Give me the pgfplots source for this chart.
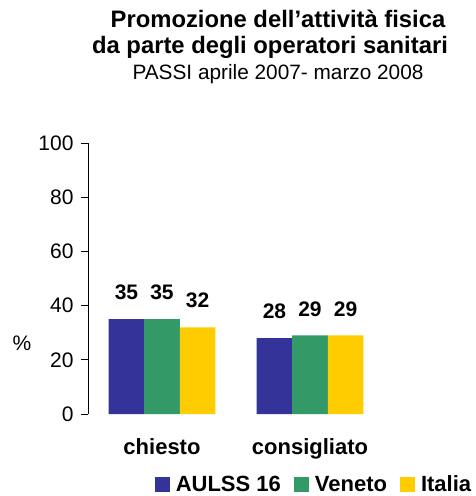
\documentclass[border=0pt]{standalone}
\usepackage{fontspec}
\setmainfont{Liberation Sans}
\usepackage{pgfplots}
\pgfplotsset{compat=1.18}
\definecolor{cblue}{HTML}{333399}
\definecolor{cgreen}{HTML}{339966}
\definecolor{cyellow}{HTML}{FFCC00}
\begin{document}
\begin{tikzpicture}[x=1pt,y=1pt]
\path[use as bounding box] (0,0) rectangle (475,496);
\node[anchor=base,font=\fontsize{23.8}{28}\selectfont\bfseries] at (278,468) {Promozione dell’attività fisica};
\node[anchor=base,font=\fontsize{23.8}{28}\selectfont\bfseries] at (270,442) {da parte degli operatori sanitari};
\node[anchor=base,font=\fontsize{20.8}{24}\selectfont] at (278,416) {PASSI aprile 2007- marzo 2008};
\begin{axis}[
  at={(88pt,82pt)}, anchor=south west,
  scale only axis, width=296pt, height=271pt,
  xmin=-0.5, xmax=1.5, ymin=0, ymax=100,
  ytick={0,20,40,60,80,100},
  xtick={0,1}, xticklabels={chiesto,consigliato},
  axis x line*=bottom, axis y line*=left,
  x axis line style={draw=none},
  y axis line style={-, black, line width=0.8pt},
  major x tick style={draw=none},
  ytick style={black, line width=0.8pt},
  tick align=outside, major tick length=7pt,
  ticklabel style={font=\fontsize{21}{25}\selectfont},
  yticklabel style={xshift=-4pt},
  xticklabel style={font=\fontsize{22}{26}\selectfont\bfseries, yshift=-14pt},
  /pgf/number format/assume math mode=true,
  ylabel={\%},
  every axis y label/.style={at={(axis description cs:0,0.26)}, anchor=center, xshift=-66pt, font=\fontsize{21}{25}\selectfont},
  ybar, bar width=0.24,
  nodes near coords,
  every node near coord/.append style={font=\fontsize{21}{25}\selectfont\bfseries, inner sep=0pt, anchor=south, yshift=19pt},
  legend style={at={(axis description cs:0.76,-0.259)}, anchor=center, draw=none, fill=none,
    legend columns=3, font=\fontsize{22}{26}\selectfont\bfseries, inner sep=0pt,
    nodes={inner sep=0pt},
    /tikz/every odd column/.append style={column sep=6pt},
    /tikz/every even column/.append style={column sep=13pt}},
  legend image code/.code={\fill[#1] (0pt,-7.5pt) rectangle (15pt,7.5pt);},
  clip=false,
]
\addplot[fill=cblue, draw=none, bar shift=-0.24] coordinates {(0,35) (1,28)};
\addplot[fill=cgreen, draw=none, bar shift=0] coordinates {(0,35) (1,29)};
\addplot[fill=cyellow, draw=none, bar shift=0.24] coordinates {(0,32) (1,29)};
\legend{AULSS 16, Veneto, Italia}
\end{axis}
\end{tikzpicture}
\end{document}
